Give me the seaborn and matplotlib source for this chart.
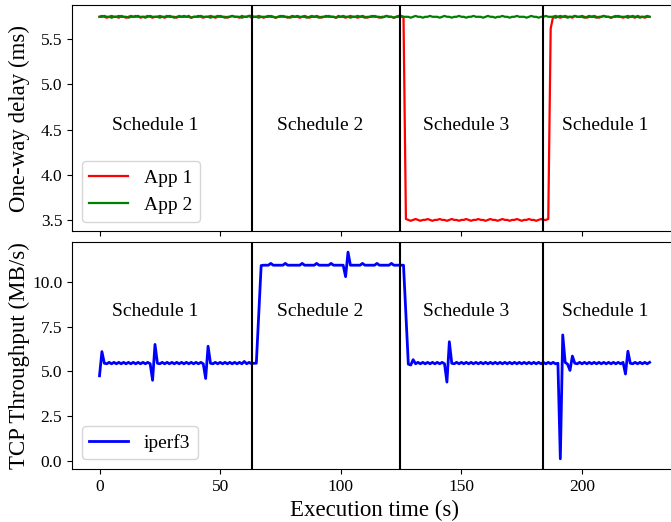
import numpy as np
import pandas as pd
import matplotlib
matplotlib.use("Agg")
import matplotlib.pyplot as plt
import seaborn as sns

plt.rcParams['font.family'] = ['Liberation Serif', 'DejaVu Serif']
plt.rcParams['mathtext.fontset'] = 'dejavuserif'

# ---------------- data ----------------
time_s = list(range(229))  # one sample per second, 0..228 s

app1_delay = [
    5.75, 5.76, 5.75, 5.74, 5.75, 5.76, 5.75, 5.75, 5.74, 5.76,
    5.75, 5.74, 5.75, 5.76, 5.75, 5.75, 5.76, 5.74, 5.75, 5.75,
    5.76, 5.75, 5.74, 5.75, 5.75, 5.76, 5.75, 5.74, 5.75, 5.76,
    5.75, 5.75, 5.74, 5.76, 5.75, 5.75, 5.75, 5.76, 5.74, 5.75,
    5.75, 5.76, 5.75, 5.74, 5.75, 5.75, 5.76, 5.75, 5.74, 5.75,
    5.76, 5.75, 5.75, 5.74, 5.75, 5.76, 5.75, 5.75, 5.74, 5.76,
    5.75, 5.75, 5.76, 5.74, 5.75, 5.75, 5.76, 5.75, 5.74, 5.75,
    5.75, 5.76, 5.75, 5.74, 5.75, 5.76, 5.75, 5.75, 5.74, 5.75,
    5.76, 5.75, 5.75, 5.74, 5.75, 5.76, 5.75, 5.74, 5.75, 5.75,
    5.76, 5.75, 5.74, 5.75, 5.75, 5.76, 5.75, 5.75, 5.74, 5.76,
    5.75, 5.75, 5.74, 5.75, 5.76, 5.75, 5.75, 5.74, 5.75, 5.76,
    5.75, 5.74, 5.75, 5.75, 5.76, 5.75, 5.74, 5.75, 5.75, 5.76,
    5.75, 5.75, 5.74, 5.75, 5.76, 5.75, 5.75, 3.51, 3.50, 3.49,
    3.50, 3.51, 3.50, 3.49, 3.50, 3.50, 3.51, 3.50, 3.49, 3.50,
    3.50, 3.51, 3.50, 3.50, 3.49, 3.50, 3.51, 3.50, 3.50, 3.49,
    3.50, 3.50, 3.51, 3.50, 3.49, 3.50, 3.50, 3.51, 3.50, 3.50,
    3.49, 3.50, 3.51, 3.50, 3.50, 3.49, 3.50, 3.51, 3.50, 3.50,
    3.49, 3.50, 3.50, 3.51, 3.50, 3.49, 3.50, 3.50, 3.51, 3.50,
    3.50, 3.49, 3.50, 3.51, 3.50, 3.50, 3.51, 5.62, 5.75, 5.76,
    5.75, 5.74, 5.75, 5.76, 5.75, 5.75, 5.74, 5.76, 5.75, 5.75,
    5.76, 5.75, 5.74, 5.75, 5.75, 5.76, 5.75, 5.74, 5.75, 5.76,
    5.75, 5.75, 5.74, 5.75, 5.76, 5.75, 5.75, 5.74, 5.75, 5.76,
    5.75, 5.75, 5.74, 5.76, 5.75, 5.75, 5.74, 5.75, 5.75,
]

app2_delay = [
    5.75, 5.75, 5.76, 5.75, 5.75, 5.74, 5.75, 5.75, 5.76, 5.75,
    5.75, 5.75, 5.74, 5.75, 5.75, 5.76, 5.75, 5.75, 5.75, 5.74,
    5.75, 5.76, 5.75, 5.75, 5.75, 5.74, 5.75, 5.75, 5.76, 5.75,
    5.75, 5.74, 5.75, 5.75, 5.75, 5.76, 5.75, 5.75, 5.74, 5.75,
    5.75, 5.75, 5.76, 5.75, 5.75, 5.75, 5.74, 5.75, 5.75, 5.76,
    5.75, 5.75, 5.74, 5.75, 5.75, 5.76, 5.75, 5.75, 5.75, 5.74,
    5.75, 5.75, 5.76, 5.76, 5.75, 5.75, 5.74, 5.75, 5.75, 5.75,
    5.76, 5.75, 5.75, 5.74, 5.75, 5.75, 5.76, 5.75, 5.75, 5.74,
    5.75, 5.75, 5.76, 5.75, 5.75, 5.75, 5.74, 5.75, 5.76, 5.75,
    5.75, 5.74, 5.75, 5.75, 5.76, 5.75, 5.75, 5.75, 5.74, 5.75,
    5.75, 5.76, 5.75, 5.75, 5.74, 5.75, 5.75, 5.76, 5.75, 5.75,
    5.74, 5.75, 5.75, 5.76, 5.75, 5.75, 5.75, 5.74, 5.75, 5.76,
    5.75, 5.75, 5.74, 5.75, 5.75, 5.76, 5.75, 5.75, 5.75, 5.74,
    5.75, 5.76, 5.75, 5.75, 5.74, 5.75, 5.75, 5.76, 5.75, 5.75,
    5.75, 5.74, 5.75, 5.76, 5.75, 5.75, 5.74, 5.75, 5.75, 5.76,
    5.75, 5.75, 5.74, 5.75, 5.75, 5.76, 5.75, 5.75, 5.75, 5.74,
    5.75, 5.76, 5.75, 5.75, 5.74, 5.75, 5.75, 5.76, 5.75, 5.75,
    5.74, 5.75, 5.75, 5.76, 5.75, 5.75, 5.75, 5.74, 5.75, 5.76,
    5.75, 5.75, 5.74, 5.75, 5.75, 5.76, 5.75, 5.75, 5.75, 5.74,
    5.75, 5.76, 5.75, 5.75, 5.74, 5.75, 5.75, 5.76, 5.75, 5.75,
    5.75, 5.74, 5.75, 5.76, 5.75, 5.75, 5.74, 5.75, 5.75, 5.76,
    5.75, 5.75, 5.74, 5.75, 5.75, 5.76, 5.75, 5.75, 5.75, 5.74,
    5.75, 5.76, 5.75, 5.75, 5.74, 5.75, 5.75, 5.76, 5.75,
]

iperf3_tput = [
    4.75, 6.10, 5.45, 5.42, 5.50, 5.42, 5.50, 5.42, 5.50, 5.42,
    5.50, 5.42, 5.50, 5.42, 5.50, 5.42, 5.50, 5.42, 5.50, 5.42,
    5.50, 5.42, 4.50, 6.50, 5.45, 5.42, 5.50, 5.42, 5.50, 5.42,
    5.50, 5.42, 5.50, 5.42, 5.50, 5.42, 5.50, 5.42, 5.50, 5.42,
    5.50, 5.42, 5.50, 5.42, 4.60, 6.40, 5.45, 5.42, 5.50, 5.42,
    5.50, 5.42, 5.50, 5.42, 5.50, 5.42, 5.50, 5.42, 5.50, 5.42,
    5.55, 5.42, 5.50, 5.42, 5.45, 5.45, 8.20, 10.90, 10.92, 10.92,
    10.92, 11.02, 10.92, 10.92, 10.92, 10.92, 10.92, 11.02, 10.92, 10.92,
    10.92, 10.92, 10.92, 10.92, 11.02, 10.92, 10.92, 10.92, 10.92, 10.92,
    11.02, 10.92, 10.92, 10.92, 10.92, 10.92, 11.02, 10.92, 10.92, 10.92,
    10.92, 10.92, 10.28, 11.65, 10.92, 10.92, 10.92, 10.92, 10.92, 11.02,
    10.92, 10.92, 10.92, 10.92, 10.92, 11.02, 10.92, 10.92, 10.92, 10.92,
    10.92, 11.02, 10.92, 10.92, 10.92, 10.92, 10.92, 8.20, 5.40, 5.35,
    5.65, 5.42, 5.50, 5.42, 5.50, 5.42, 5.50, 5.42, 5.50, 5.42,
    5.50, 5.42, 5.50, 5.42, 4.40, 6.65, 5.45, 5.42, 5.50, 5.42,
    5.50, 5.42, 5.50, 5.42, 5.50, 5.42, 5.50, 5.42, 5.50, 5.42,
    5.50, 5.42, 5.50, 5.42, 5.50, 5.42, 5.50, 5.42, 5.50, 5.42,
    5.50, 5.42, 5.50, 5.42, 5.50, 5.42, 5.50, 5.42, 5.50, 5.42,
    5.50, 5.42, 5.50, 5.42, 5.50, 5.42, 5.50, 5.42, 5.50, 5.42,
    5.45, 0.12, 7.03, 5.50, 5.40, 5.05, 5.85, 5.45, 5.42, 5.50,
    5.42, 5.50, 5.42, 5.50, 5.42, 5.50, 5.42, 5.50, 5.42, 5.50,
    5.42, 5.50, 5.42, 5.50, 5.42, 5.50, 5.42, 5.50, 4.85, 6.12,
    5.45, 5.42, 5.50, 5.42, 5.50, 5.42, 5.50, 5.42, 5.50,
]

schedule_switches = [63, 124.5, 184]
schedule_labels = ["Schedule 1", "Schedule 2", "Schedule 3", "Schedule 1"]
schedule_label_x = [23, 91.5, 152, 209.5]

# ---------------- figure ----------------
delay_df = pd.DataFrame({
    "t": time_s * 2,
    "delay": app1_delay + app2_delay,
    "app": ["App 1"] * len(time_s) + ["App 2"] * len(time_s),
})
tput_df = pd.DataFrame({"t": time_s, "tput": iperf3_tput, "flow": "iperf3"})

fig, (ax1, ax2) = plt.subplots(2, 1, sharex=True, figsize=(6.71, 5.22), dpi=100)
fig.subplots_adjust(left=0.1073, right=1.0091, top=0.991, bottom=0.1015, hspace=0.0476)

sns.lineplot(data=delay_df, x="t", y="delay", hue="app", estimator=None,
             palette={"App 1": "red", "App 2": "green"}, linewidth=1.6, ax=ax1)
sns.lineplot(data=tput_df, x="t", y="tput", hue="flow", estimator=None,
             palette={"iperf3": "blue"}, linewidth=2.0, ax=ax2)

for ax in (ax1, ax2):
    for xs in schedule_switches:
        ax.axvline(xs, color="black", linewidth=1.5)
    ax.tick_params(labelsize=12.5)

for lbl, xp in zip(schedule_labels, schedule_label_x):
    ax1.text(xp, 4.55, lbl, ha="center", va="center", fontsize=14)
    ax2.text(xp, 8.33, lbl, ha="center", va="center", fontsize=14)

ax1.set_xlim(-11.4, 239.4)
ax1.set_ylim(3.372, 5.884)
ax2.set_ylim(-0.45, 12.2)
ax1.set_yticks([3.5, 4.0, 4.5, 5.0, 5.5])
ax2.set_yticks([0.0, 2.5, 5.0, 7.5, 10.0])
ax2.set_xticks([0, 50, 100, 150, 200])

ax1.set_xlabel("")
ax1.set_ylabel("One-way delay (ms)", fontsize=16.5)
ax2.set_ylabel("TCP Throughput (MB/s)", fontsize=16.5)
ax2.set_xlabel("Execution time (s)", fontsize=16.5)
ax1.yaxis.set_label_coords(-0.07, 0.5)
ax2.yaxis.set_label_coords(-0.07, 0.5)

ax1.legend(loc="lower left", fontsize=14)
ax2.legend(loc="lower left", fontsize=14)

fig.savefig("out.png", dpi=100)
